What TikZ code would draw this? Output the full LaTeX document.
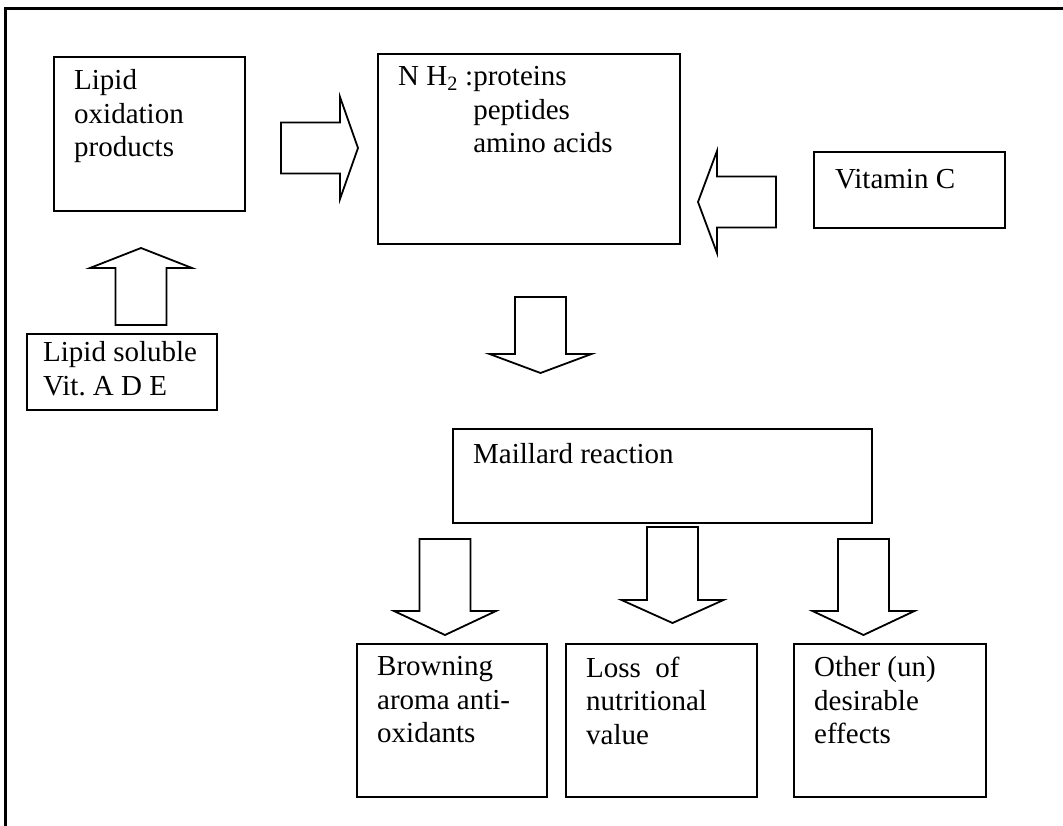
\documentclass[tikz,border=0pt]{standalone}
\usepackage{fontspec}
\setmainfont{Liberation Serif}
\usetikzlibrary{calc}

\begin{document}
\begin{tikzpicture}[x=1pt,y=-1pt,
    box/.style={draw,line width=1.8pt,inner sep=0pt,anchor=north west},
    txt/.style={inner sep=0pt,anchor=north west,align=left,font=\fontsize{29}{33.5}\selectfont,execute at begin node=\strut},
    fatarrow/.style={draw,line width=1.8pt,line join=miter}]
        \useasboundingbox (0,0) rectangle (1063,826);
        \def\shaft{25.5pt}
        \def\headw{51pt}
        \def\asc{23.45}
        \draw[line width=3pt] (5,826) -- (5,9) -- (1063,9);
        \node[box,minimum width=191pt,minimum height=154pt] (lipox) at (53,56) {};
        \node[box,minimum width=302pt,minimum height=190pt] (nhtwo) at (377,53) {};
        \node[box,minimum width=191pt,minimum height=76pt] (vitc) at (813,151) {};
        \node[box,minimum width=190pt,minimum height=76pt] (lipsol) at (26,333) {};
        \node[box,minimum width=419pt,minimum height=94pt] (maillard) at (452,428) {};
        \node[box,minimum width=190pt,minimum height=153pt] (brown) at (356,643) {};
        \node[box,minimum width=191pt,minimum height=153pt] (loss) at (565,643) {};
        \node[box,minimum width=192pt,minimum height=153pt] (other) at (793,643) {};
        \node[txt] (lipoxtxt) at (74,93-\asc) {Lipid\\oxidation\\products};
        \node[txt] (nhtwotxt) at (398,90-\asc) {N H\textsubscript{2} :proteins\\\phantom{N H\textsubscript{2} :}peptides\\\phantom{N H\textsubscript{2} :}amino acids};
        \node[txt] (vitctxt) at (835,188-\asc) {Vitamin C};
        \node[txt] (lipsoltxt) at (43,365-\asc) {Lipid soluble\\Vit.\ A D E};
        \node[txt] (maillardtxt) at (473,463-\asc) {Maillard reaction};
        \node[txt] (browntxt) at (377,680-\asc) {Browning\\aroma anti-\\oxidants};
        \node[txt] (losstxt) at (586,680-\asc) {Loss\ \ of\\nutritional\\value};
        \node[txt] (othertxt) at (814,680-\asc) {Other (un)\\desirable\\effects};
        \coordinate (a1t) at (281,148);
        \coordinate (a1h) at (358,148);
        \coordinate (a2t) at (776,202);
        \coordinate (a2h) at (698,202);
        \coordinate (a3t) at (141,325);
        \coordinate (a3h) at (141,248);
        \coordinate (a4t) at (540.5,297);
        \coordinate (a4h) at (540.5,373);
        \coordinate (a5t) at (445,539);
        \coordinate (a5h) at (445,635);
        \coordinate (a6t) at (672.5,527);
        \coordinate (a6h) at (672.5,623);
        \coordinate (a7t) at (863.5,539);
        \coordinate (a7h) at (863.5,635);
        \foreach \tail/\tip/\len in {a1t/a1h/18,a2t/a2h/19,a3t/a3h/20,a4t/a4h/19,a5t/a5h/24,a6t/a6h/23,a7t/a7h/24}{
          \coordinate (hb) at ($(\tip)!\len pt!(\tail)$);
          \draw[fatarrow] ($(\tail)!\shaft!90:(\tip)$) -- ($(hb)!\shaft!90:(\tip)$)
            -- ($(hb)!\headw!90:(\tip)$) -- (\tip) -- ($(hb)!\headw!-90:(\tip)$)
            -- ($(hb)!\shaft!-90:(\tip)$) -- ($(\tail)!\shaft!-90:(\tip)$) -- cycle;
        }
      \end{tikzpicture}
\end{document}
